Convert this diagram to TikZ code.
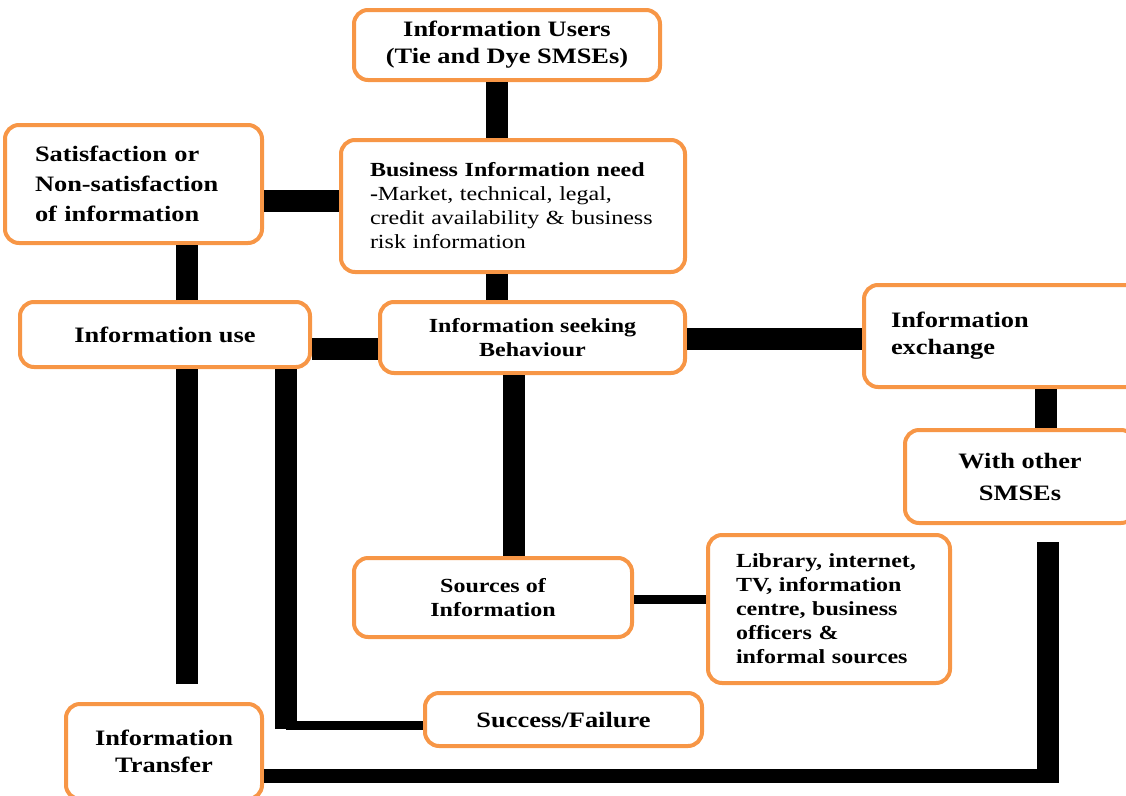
\documentclass[tikz,border=0pt]{standalone}
\usepackage{fontspec}
\setmainfont[FakeStretch=1.2]{Liberation Serif}
\definecolor{boxorange}{HTML}{F79646}
\newcommand{\bigtxt}{\fontsize{22}{27}\selectfont\bfseries}
\newcommand{\midtxt}{\fontsize{20}{24}\selectfont\bfseries}
\newcommand{\smalltxt}{\fontsize{20}{24}\selectfont}

\begin{document}
\begin{tikzpicture}[x=1pt,y=-1pt,
  box/.style={draw=boxorange,line width=4pt,rounded corners=14pt,fill=white,
              inner sep=0pt,align=center,font=\bigtxt},
  bar/.style={line width=22pt},
  thinbar/.style={line width=9pt},
  midbar/.style={line width=14pt}]
\useasboundingbox (0,0) rectangle (1126,795);

\node[box,minimum width=306pt,minimum height=70pt] (users) at (507,45) {Information Users\\(Tie and Dye SMSEs)};
\node[box,minimum width=344pt,minimum height=132pt,align=left,text width=286pt,font=\smalltxt] (need) at (513,206)
  {\textbf{Business Information need}\\\textbf{-}Market, technical, legal,\\credit availability \& business\\risk information};
\node[box,minimum width=257pt,minimum height=118pt,align=left,text width=197pt,font={\fontsize{22}{30}\selectfont\bfseries}] (satisf) at (133.5,184)
  {Satisfaction or\\Non-satisfaction\\of information};
\node[box,minimum width=290pt,minimum height=65pt] (use) at (165,334.5) {Information use};
\node[box,minimum width=305pt,minimum height=71pt,font=\midtxt] (seeking) at (532.5,337.5) {Information seeking\\Behaviour};
\node[box,minimum width=276pt,minimum height=102pt,align=left,text width=222pt] (exchange) at (1002,336) {Information\\exchange};
\node[box,minimum width=230pt,minimum height=93pt,font={\fontsize{22}{32}\selectfont\bfseries}] (other) at (1020,476.5) {With other\\SMSEs};
\node[box,minimum width=278pt,minimum height=79pt,font=\midtxt] (sources) at (493,597.5) {Sources of\\Information};
\node[box,minimum width=242pt,minimum height=148pt,align=left,text width=186pt,font=\midtxt] (library) at (829,609)
  {Library, internet,\\TV, information\\centre, business\\officers \&\\informal sources};
\node[box,minimum width=277pt,minimum height=53pt] (success) at (563.5,719.5) {Success/Failure};
\node[box,minimum width=196pt,minimum height=95pt] (transfer) at (164,751.5) {Information\\Transfer};

% links
\draw[bar] ([xshift=-10pt]users.south) -- ([xshift=-16pt]need.north);
\draw[bar] ([yshift=-17pt]satisf.east) -- ([yshift=5pt]need.west);
\draw[bar] ([xshift=22pt]use.north) -- ([xshift=53.5pt]satisf.south);
\draw[bar] ([xshift=-16pt]need.south) -- ([xshift=-35.5pt]seeking.north);
\draw[bar] ([yshift=-14.5pt]use.east) -- ([yshift=-11.5pt]seeking.west);
\draw[bar] ([yshift=-1.5pt]seeking.east) -- ([yshift=-3pt]exchange.west);
\draw[bar] ([xshift=44pt]exchange.south) -- ([xshift=26pt]other.north);
\draw[bar] ([xshift=-18.5pt]seeking.south) -- ([xshift=21pt]sources.north);
\draw[thinbar] ([yshift=-1.5pt]sources.east) -- ([yshift=10pt]library.west);
\draw[bar] ([xshift=23pt,yshift=18pt]transfer.north) -- ([xshift=22pt]use.south);

\coordinate (elbow) at (286,725);
\draw[bar] ([yshift=-4pt]elbow) -- (elbow |- use.south);
\draw[thinbar] (elbow) -- (elbow -| success.west);

\coordinate (corner) at (1048,776);
\draw[midbar] ([yshift=-24.5pt]transfer.east) -- (corner);
\draw[bar] ([yshift=-7pt]corner) -- ([xshift=28pt,yshift=-17pt]other.south);
\end{tikzpicture}
\end{document}
